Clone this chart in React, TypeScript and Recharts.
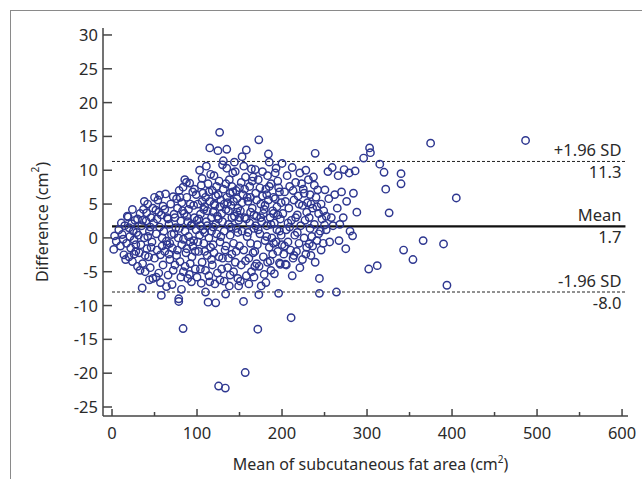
import { ScatterChart, Scatter, XAxis, YAxis, ReferenceLine } from 'recharts'

// Bland-Altman: [mean of subcutaneous fat area, difference], grouped by x band
const band0to30: [number, number][] = [
  [3, 0.3], [2, -1.7], [5, -0.5], [8, 1.2], [10, -1.2], [12, 0.5], [14, -2.5], [15, 1.8], [17, -0.8], [18, 3.2],
  [19, 3.1], [20, -2.8], [21, 0.2], [22, -1.5], [23, 2.1], [24, -3.5], [25, 1.0], [26, -0.3], [27, 2.6], [28, -2.0],
  [29, 0.8], [30, -4.2], [16, -3.2], [11, 2.2], [24, 4.2], [28, -1.0], [13, -0.2], [20, 1.5], [26, -2.4], [30, 2.8],
]

const band30to60: [number, number][] = [
  [31, 0.4], [32, -2.2], [33, 3.6], [34, -1.0], [35.5, -7.4], [35, 1.8], [36, -3.8], [37, 4.2], [38, 0.0], [39, -5.0],
  [40, 2.5], [40.7, 3.7], [41, -1.6], [42, 5.0], [43, -2.8], [44, 1.0], [45, -4.4], [46, 3.0], [47, -0.6], [48, -6.0],
  [49, 2.2], [50, -3.0], [51.6, 4.1], [52, 0.6], [53, -1.8], [54, 5.6], [55, -5.2], [56, 1.6], [57, -2.5], [58, -8.5],
  [58, 3.4], [59, 0.0], [60, 4.7], [60, -4.0], [33, -4.8], [38, 5.4], [44, -6.2], [46, -1.4], [50, 6.0], [53, 2.8],
  [57, -6.6], [42, 0.2], [36, 2.6], [48, 4.4], [52, -5.8], [55, 3.8], [59, -1.2], [45, 1.6], [39, -2.6], [56, 6.3],
]

const band60to100: [number, number][] = [
  [61, 1.0], [62, -2.0], [63, 6.5], [64, -0.5], [65, 3.0], [66, -5.5], [67, 2.0], [68, -3.2], [69, 5.0], [70, 0.5],
  [70.7, -6.9], [71, -1.5], [72, 6.1], [73, 3.5], [74, -4.0], [75, 1.5], [76, -2.6], [77, 4.4], [78, 0.0], [78.5, -9.0],
  [78.5, -9.4], [79, 7.0], [80, 6.0], [80, -3.5], [81, 2.5], [81.7, -7.6], [82, -1.0], [83, 4.0], [83.6, 7.5], [83.6, -13.4],
  [84, -5.0], [85.6, 8.6], [86, 1.0], [87, -2.2], [87.5, 8.2], [88, 6.0], [88, 3.2], [89, -6.0], [90, 0.2], [91.4, 8.1],
  [92, 5.0], [92, -3.8], [93.4, -6.5], [94, 2.0], [95, -1.2], [96, 4.8], [97, 7.2], [98, -4.6], [99, 6.4], [99, 1.2],
  [62, 4.2], [64, -7.2], [66, 2.8], [68, -0.8], [72, -4.8], [74, 3.0], [76, 5.8], [77, -1.8], [79, 1.4], [82, 5.2],
  [84, -0.2], [85, 3.6], [86, -4.2], [88, -1.6], [90, 4.2], [91, -5.4], [93, 1.8], [94, -2.8], [95, 6.8], [96, -0.4],
  [97, 3.0], [98, -2.0], [100, 2.6], [100, -5.8], [67, -2.4], [73, 0.6], [81, -5.8], [89, 2.4], [92, -0.6], [65, -1.0],
]

const band100to150: [number, number][] = [
  [101, 5.0], [102, -2.0], [103, 10.0], [103, 0.4], [104, 3.5], [105, -6.7], [105, 7.8], [106, -3.6], [107, 6.6], [107, 1.2],
  [108, -0.8], [109, 4.6], [110, -4.8], [111, 10.6], [111, 2.4], [112, -2.6], [113, 8.0], [113, -9.5], [114, 0.0], [115, 13.3],
  [115, -6.5], [115, 5.4], [116, -1.4], [117, 3.0], [118, 7.0], [118, -4.0], [119, 1.6], [120, 9.2], [120, -2.2], [121, 4.8],
  [122, -9.6], [122, 6.2], [123, 0.6], [124, -5.2], [124.6, 12.9], [125, 2.8], [125.4, -21.9], [126, 8.4], [126.6, 15.6], [127, -6.2],
  [127, -0.6], [128, 5.6], [129, 3.6], [130, -3.0], [130, 10.8], [131, 7.2], [132, 1.0], [133, -1.8], [133.3, -22.2], [133.6, -8.3],
  [134, 4.2], [135, 13.1], [135, 10.3], [135, 6.0], [136, -4.4], [137, 2.0], [138, -7.1], [138, 8.6], [139, -5.5], [139, 0.4],
  [140, 4.8], [141, -2.4], [142, 9.6], [142, 6.8], [143, -0.8], [144, 3.2], [145, 9.8], [145, -3.6], [146, 1.4], [147, 5.8],
  [148, -6.0], [149, -7.1], [149, 2.6], [150, 7.4], [150, -1.2], [101, -0.6], [102, 2.8], [104, -4.6], [106, 8.8], [108, 4.2],
  [109, -2.0], [110, 6.0], [112, 1.8], [114, -5.6], [116, 9.4], [117, -3.2], [119, -1.0], [120, 5.0], [121, -6.8], [123, 7.6],
  [124, 3.2], [126, -2.8], [128, 0.2], [129, -4.6], [131, 11.4], [132, -6.4], [134, -1.2], [136, 5.2], [137, -3.0], [140, 1.6],
  [141, 7.6], [143, -5.0], [144, 11.2], [146, -2.0], [147, 3.8], [148, 0.8], [110, -8.0],
  [104, 1.8], [106, 5.4], [109, 0.8], [112, 4.0], [114, 6.8], [117, 1.0], [119, 3.8], [122, 2.0], [125, 6.4], [127, 4.6],
  [130, 2.4], [132, 5.0], [134, 8.0], [137, 4.0], [139, 6.6], [141, 3.0], [143, 5.4], [146, 7.0], [148, 4.4], [150, 3.0],
]

const band150to200: [number, number][] = [
  [151, 4.0], [152, -4.0], [153, 12.0], [153, 1.0], [154, 6.4], [154.7, -9.4], [155, -1.8], [156, 3.0], [156.7, -19.9], [157, 9.0],
  [158, 13.0], [158, -5.6], [159, 0.2], [160, 5.4], [161, -3.0], [162, 7.6], [162, 2.2], [163, -0.8], [164, -5.0], [164, 10.2],
  [165, 4.4], [166, -2.2], [167, 1.4], [168, -4.2], [168, -2.0], [168.5, 10.1], [169, 6.6], [170, 3.2], [171, -1.0], [171.5, -13.5],
  [172, 8.6], [172.7, 14.5], [172.7, -8.4], [173, -4.2], [174, 0.6], [175, 5.0], [175.5, -7.1], [176, 2.4], [177, 9.8], [178, -2.8],
  [179, 4.2], [180, -0.4], [181, -6.6], [181, 7.2], [182, 1.8], [183, -3.6], [184, 12.4], [184, 5.6], [185, 11.2], [185, -1.4],
  [186, -3.4], [186, 3.0], [187, 8.0], [188, 0.0], [189, -2.4], [190, 6.0], [191, -5.3], [191, 2.2], [192, 9.6], [193, 10.3],
  [193, -0.6], [194, 4.6], [195, -2.0], [196, -8.2], [196, 7.4], [197, -3.7], [197, 1.0], [198, -3.9], [199, 5.2], [200, 11.0],
  [200, -1.0], [151, -6.4], [152, 8.2], [155, 10.6], [157, -3.4], [159, 6.0], [161, -6.8], [163, 3.8], [166, 9.0], [167, -5.8],
  [169, 1.8], [170, -3.8], [174, 7.4], [178, 3.6], [179, -5.4], [182, 6.4], [183, 9.2], [187, -4.8], [189, 4.0], [190, -0.8],
  [194, 1.2], [195, 8.4], [198, 2.8],
  [153, 5.2], [156, 7.2], [158, 2.8], [160, 0.8], [163, 6.0], [165, 8.4], [167, 3.4], [170, 5.6], [172, 1.2], [175, 3.0],
  [177, 6.2], [180, 4.8], [182, 0.2], [185, 7.6], [187, 2.0], [190, 3.6], [192, 5.8], [195, 3.4], [197, 6.8], [199, 0.4],
]

const band200to250: [number, number][] = [
  [201, 3.6], [202, -2.4], [203, 6.8], [204, -3.9], [205, -4.0], [205, 1.2], [206, 9.2], [207, -0.6], [208, 4.4], [209, 7.6],
  [210, -1.8], [210.7, -11.8], [211, 2.6], [212, 10.4], [213, -3.0], [214, 5.6], [215, 0.4], [216, 8.2], [217, -2.0], [218, 3.4],
  [219, 6.2], [220, -0.8], [221, 9.6], [222, 1.8], [224, -3.2], [224, 4.8], [225, 7.2], [226, 0.0], [227, 2.6], [228, 10.0],
  [229, -1.4], [230, 5.2], [231, 8.6], [232, -0.9], [232, 3.0], [233, 6.4], [234, -2.6], [235, 0.2], [236, -1.2], [236, 4.4],
  [237, 9.0], [238, 2.0], [239, 12.5], [240, 6.0], [241, -0.4], [242, 7.1], [243, 3.6], [244, -6.0], [244, -8.2], [245, 1.0],
  [246, 5.0], [247, 2.8], [248.5, -0.8], [249, 4.0], [250, 1.9], [250.5, 7.1], [203, -1.2], [207, 2.2], [212, -5.6], [214, -2.6],
  [218, 0.8], [221, -4.4], [226, 6.6], [228, -2.4], [233, 1.4], [239, -3.6], [241, 4.6], [246, -1.8],
  [204, 5.4], [209, 1.6], [213, 7.0], [216, 3.0], [220, 5.0], [223, 8.0], [229, 3.8], [234, 5.0], [238, 7.8], [243, 0.6],
]

const band250to300: [number, number][] = [
  [252, 1.2], [252, 3.2], [254, 9.8], [255, 5.8], [256, -0.6], [258, 3.0], [259, 10.4], [260, 1.8], [262, 6.4], [264, -8.0],
  [265, 4.4], [266, 9.2], [267, -0.4], [268, 2.0], [270, 6.8], [272, 3.0], [273, 10.1], [275, -1.6], [276, 5.4], [279, 9.6],
  [280, 1.0], [283, 0.3], [284, 6.6], [286, 9.9], [288, 3.8], [296, 11.8],
]

const band300up: [number, number][] = [
  [303, 13.3], [304, 12.6], [315, 10.9], [320, 9.7], [322, 7.2], [326, 3.7], [340, 9.5], [340, 8.0], [302, -4.6], [312, -4.1],
  [343, -1.8], [354, -3.2], [366, -0.4], [390, -0.9], [394, -7.0], [374.8, 14.0], [405, 5.9], [486.5, 14.4],
]

const xTicks = [0, 50, 100, 150, 200, 250, 300, 350, 400, 450, 500, 550, 600]
const yTicks = [-25, -20, -15, -10, -5, 0, 5, 10, 15, 20, 25, 30]

const meanDiff = 1.7
const upperLimit = 11.3
const lowerLimit = -8.0

const FONT = '"Noto Sans", sans-serif'
const FS = 16.5
const INK = '#2a2a2a'
const AXIS = '#444'
const DOT = '#2e3790'

const points = [
  ...band0to30, ...band30to60, ...band60to100, ...band100to150,
  ...band150to200, ...band200to250, ...band250to300, ...band300up,
].map(([mean, diff]) => ({ mean, diff }))

function XTick({ x, y, payload }: any) {
  const major = payload.value % 100 === 0
  return (
    <g>
      <line x1={x} y1={y} x2={x} y2={y - (major ? 7 : 4)} stroke={AXIS} strokeWidth={1.5} />
      {major && (
        <text x={x} y={y + 23} textAnchor="middle" fontFamily={FONT} fontSize={FS} fill={INK}>
          {payload.value}
        </text>
      )}
    </g>
  )
}

function YTick({ x, y, payload }: any) {
  return (
    <g>
      <line x1={x} y1={y} x2={x + 9} y2={y} stroke={AXIS} strokeWidth={1.5} />
      <text x={x - 5} y={y + 6} textAnchor="end" fontFamily={FONT} fontSize={FS} fill={INK}>
        {payload.value}
      </text>
    </g>
  )
}

function LineLabel({ viewBox, top, bottom }: any) {
  const right = viewBox.x + viewBox.width - 4
  return (
    <g fontFamily={FONT} fontSize={FS} fill={INK}>
      <text x={right} y={viewBox.y - 5} textAnchor="end">{top}</text>
      <text x={right} y={viewBox.y + 17} textAnchor="end">{bottom}</text>
    </g>
  )
}

function XTitle({ viewBox }: any) {
  return (
    <text x={viewBox.x + viewBox.width / 2 + 5} y={viewBox.y + 54} textAnchor="middle" fontFamily={FONT} fontSize={FS - 0.5} fill={INK}>
      Mean of subcutaneous fat area (cm<tspan fontSize={10} dy={-7}>2</tspan><tspan dy={7}>)</tspan>
    </text>
  )
}

function YTitle({ viewBox }: any) {
  const cx = 42
  const cy = viewBox.y + viewBox.height / 2
  return (
    <text x={cx} y={cy} transform={`rotate(-90 ${cx} ${cy})`} textAnchor="middle" dominantBaseline="central" fontFamily={FONT} fontSize={FS - 0.5} fill={INK}>
      Difference (cm<tspan fontSize={10} dy={-7}>2</tspan><tspan dy={7}>)</tspan>
    </text>
  )
}

const Ring = (p: any) => <circle cx={p.cx} cy={p.cy} r={3.7} fill="none" stroke={DOT} strokeWidth={1.45} />

export default function App() {
  return (
    <div style={{ position: 'fixed', left: 0, top: 0, width: 642, height: 479, overflow: 'hidden', background: '#fff' }}>
      <div style={{ position: 'absolute', left: 10, top: 10, width: 700, height: 600, borderLeft: '1px solid #8a8a8a', borderTop: '1px solid #8a8a8a' }} />
      <ScatterChart width={642} height={479} margin={{ top: 28, right: 14, bottom: 3, left: 43 }} style={{ position: 'absolute', left: 0, top: 0 }}>
        <XAxis
          type="number"
          dataKey="mean"
          domain={[-10.6, 607]}
          ticks={xTicks}
          interval={0}
          tickSize={0}
          tickMargin={0}
          tick={<XTick />}
          axisLine={{ stroke: AXIS, strokeWidth: 1.5 }}
          height={60}
          allowDataOverflow
          label={<XTitle />}
        />
        <YAxis
          type="number"
          dataKey="diff"
          domain={[-26.33, 31.03]}
          ticks={yTicks}
          interval={0}
          tickSize={0}
          tickMargin={0}
          tick={<YTick />}
          axisLine={{ stroke: AXIS, strokeWidth: 1.5 }}
          width={60}
          allowDataOverflow
          label={<YTitle />}
        />
        <Scatter data={points} shape={Ring} isAnimationActive={false} />
        <ReferenceLine
          segment={[{ x: 0, y: upperLimit }, { x: 604, y: upperLimit }]}
          stroke="#222"
          strokeWidth={1}
          strokeDasharray="3 2"
          label={<LineLabel top="+1.96 SD" bottom={upperLimit.toFixed(1)} />}
        />
        <ReferenceLine
          segment={[{ x: 0, y: meanDiff }, { x: 604, y: meanDiff }]}
          stroke="#111"
          strokeWidth={2.2}
          label={<LineLabel top="Mean" bottom={meanDiff.toFixed(1)} />}
        />
        <ReferenceLine
          segment={[{ x: 0, y: lowerLimit }, { x: 604, y: lowerLimit }]}
          stroke="#222"
          strokeWidth={1}
          strokeDasharray="3 2"
          label={<LineLabel top="-1.96 SD" bottom={lowerLimit.toFixed(1)} />}
        />
      </ScatterChart>
    </div>
  )
}
